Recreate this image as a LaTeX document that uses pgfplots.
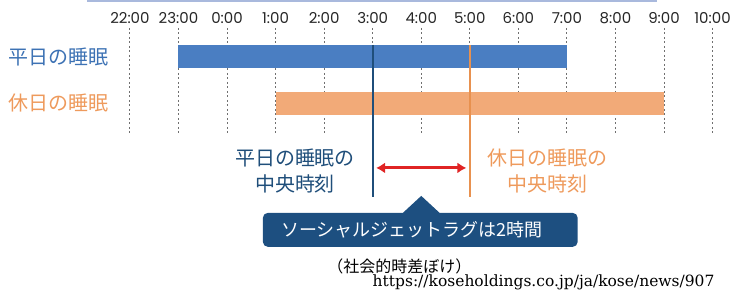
\documentclass[border=0pt]{standalone}
\usepackage{pgfplots}
\pgfplotsset{compat=1.18}
\usepackage{fontspec}
\usetikzlibrary{arrows.meta}
\setmainfont{Noto Sans CJK JP}
\newfontfamily\tickfont{Poppins}
\newfontfamily\urlfont{DejaVu Serif}
\definecolor{barblue}{HTML}{4A7EC2}
\definecolor{barorange}{HTML}{F2AA78}
\definecolor{txtblue}{HTML}{3D72B4}
\definecolor{txtorange}{HTML}{EE9A5C}
\definecolor{navy}{HTML}{1F4E7A}
\definecolor{lineorange}{HTML}{E8914F}
\definecolor{arrowred}{HTML}{E02424}
\definecolor{boxblue}{HTML}{1D4F80}
\definecolor{gridgray}{HTML}{707070}
\definecolor{topline}{HTML}{A9B9DD}
\begin{document}
\begin{tikzpicture}
\begin{axis}[width=734pt, height=291pt, scale only axis,
  xmin=19.324, xmax=34.433, ymin=0, ymax=291, y dir=reverse,
  axis lines=none, ticks=none, clip=false]
\path (rel axis cs:0,0) rectangle (rel axis cs:1,1);
% top line
\addplot[topline, line width=2pt] coordinates {(21.115,1) (32.848,1)};
% gridlines
\pgfplotsinvokeforeach{22,...,34}{
  \draw[gridgray, line width=0.9pt, dash pattern=on 2pt off 2.5pt] (axis cs:#1,28) -- (axis cs:#1,135);
}
% tick labels
\pgfplotsinvokeforeach{22,23}{
  \node[font=\tickfont\fontsize{15}{16}\selectfont, text=black!85] at (axis cs:#1,18) {#1:00};
}
\pgfplotsinvokeforeach{0,...,10}{
  \node[font=\tickfont\fontsize{15}{16}\selectfont, text=black!85] at (axis cs:#1+24,18) {#1:00};
}
% bars
\addplot[fill=barblue, draw=none] coordinates {(23,45) (31,45) (31,68) (23,68)} -- cycle;
\addplot[fill=barorange, draw=none] coordinates {(25,92) (33,92) (33,115) (25,115)} -- cycle;
% midpoint lines
\addplot[navy, line width=1.8pt] coordinates {(27,45) (27,197)};
\addplot[lineorange, line width=1.8pt] coordinates {(29,45) (29,197)};
% arrow
\draw[arrowred, line width=3pt, {Latex[length=9pt,width=11pt]}-{Latex[length=9pt,width=11pt]}] (axis cs:27.07,168) -- (axis cs:28.93,168);
% row labels
\node[anchor=west, text=txtblue, font=\fontsize{20}{22}\selectfont, inner sep=0pt] at (axis cs:19.49,57) {平日の睡眠};
\node[anchor=west, text=txtorange, font=\fontsize{20}{22}\selectfont, inner sep=0pt] at (axis cs:19.49,103) {休日の睡眠};
% midpoint labels
\node[align=center, text=navy, font=\fontsize{20}{26}\selectfont] at (axis cs:25.4,171) {平日の睡眠の\\中央時刻};
\node[align=center, text=txtorange, font=\fontsize{20}{26}\selectfont] at (axis cs:30.6,171) {休日の睡眠の\\中央時刻};
% callout
\fill[boxblue, rounded corners=5pt] (axis cs:24.738,213) rectangle (axis cs:31.222,247);
\fill[boxblue] (axis cs:27.6,214) -- (axis cs:28.0,196) -- (axis cs:28.4,214) -- cycle;
\node[text=white, font=\fontsize{18}{22}\selectfont] at (axis cs:27.805,230) {ソーシャルジェットラグは2時間};
\node[text=black, font=\fontsize{16}{18}\selectfont] at (axis cs:27.548,267) {（社会的時差ぼけ）};
\node[text=black, font=\urlfont\fontsize{15.5}{17}\selectfont] at (axis cs:30.52,283) {https://koseholdings.co.jp/ja/kose/news/907};
\end{axis}
\end{tikzpicture}
\end{document}
